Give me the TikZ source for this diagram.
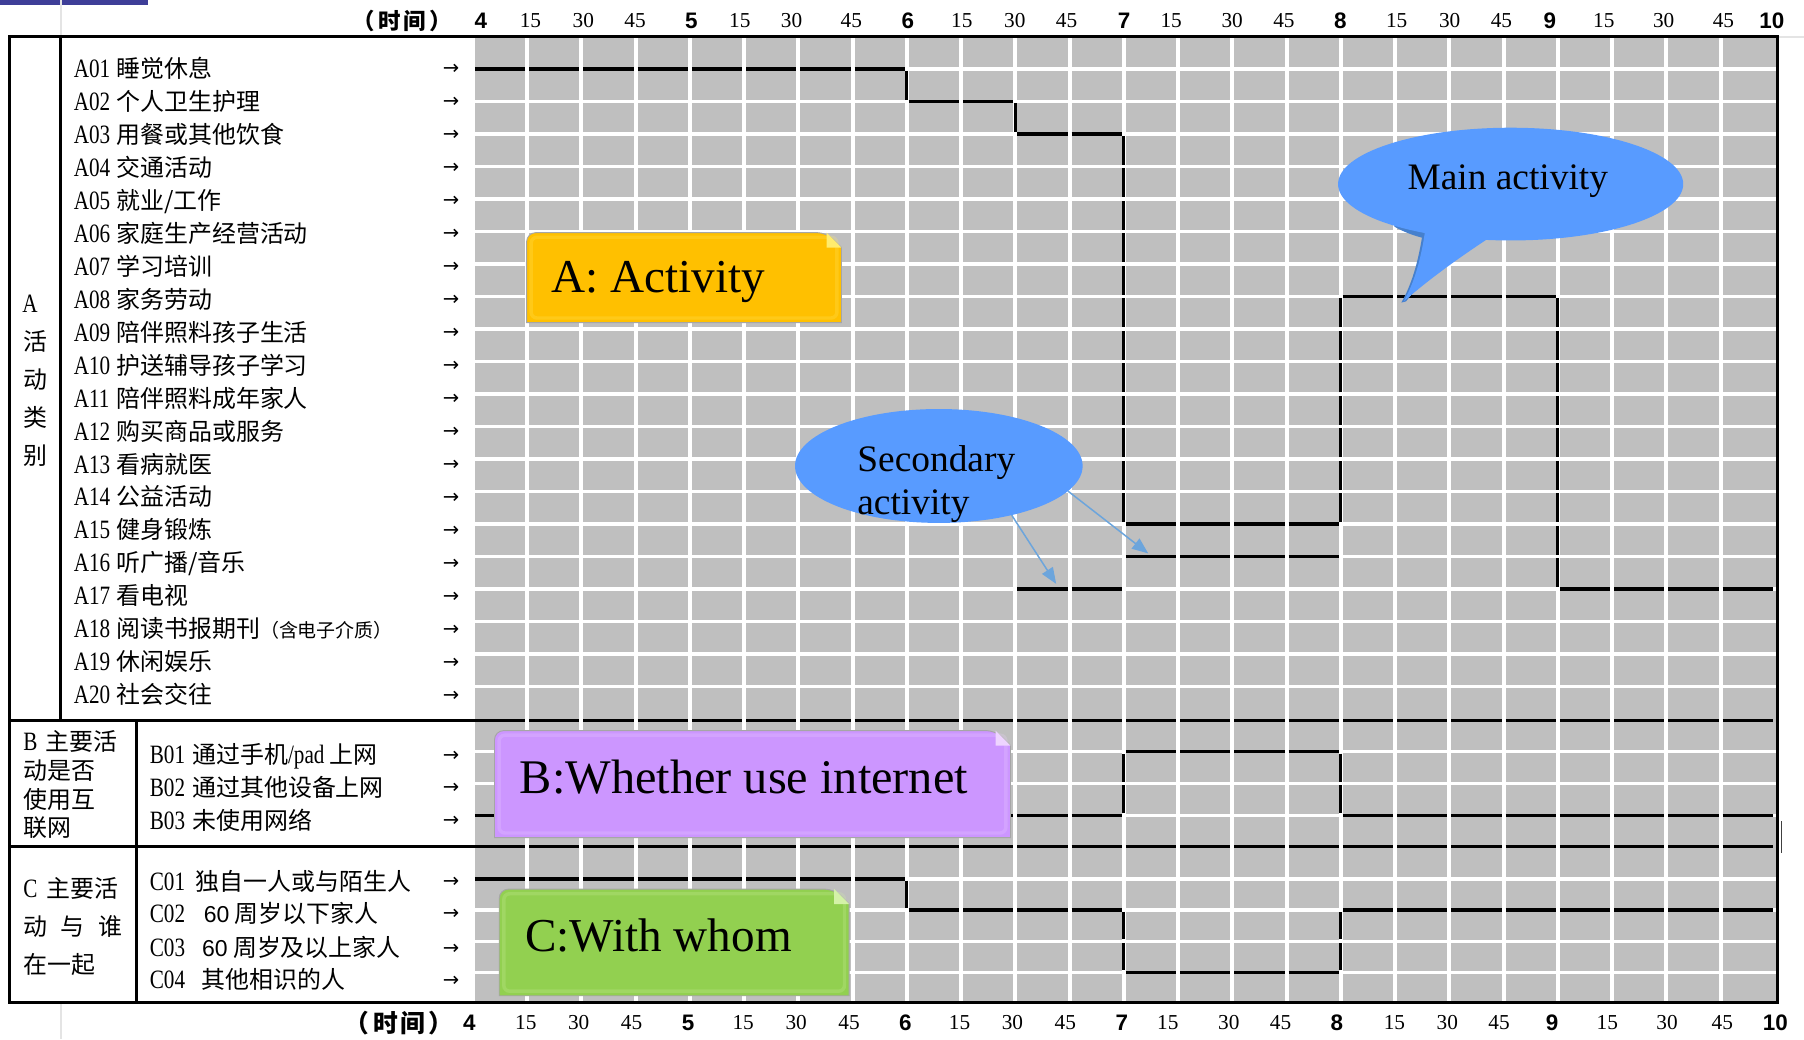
\documentclass[tikz,border=0pt]{standalone}
\usepackage{fontspec}
\setmainfont{Liberation Serif}
\newfontfamily\cjk{Noto Sans CJK SC}
\newfontfamily\code[FakeStretch=0.8]{Liberation Serif}
\newfontfamily\hsans{Liberation Sans}
\newfontfamily\arrowfont{DejaVu Sans}
\usetikzlibrary{arrows.meta,shapes.geometric}
\definecolor{cellgray}{RGB}{191,191,191}
\definecolor{boxA}{RGB}{255,192,0}
\definecolor{foldA}{RGB}{255,236,110}
\definecolor{boxB}{RGB}{204,150,255}
\definecolor{foldB}{RGB}{238,212,255}
\definecolor{boxC}{RGB}{146,208,80}
\definecolor{foldC}{RGB}{212,242,168}
\definecolor{bubble}{RGB}{88,155,255}
\definecolor{bubbleshade}{RGB}{70,128,205}
\definecolor{arrowblue}{RGB}{108,165,220}
\definecolor{topbar}{RGB}{62,62,152}
\definecolor{faint}{RGB}{228,228,228}
\tikzset{
  lbl/.style={anchor=base west, inner sep=0pt, font=\cjk\fontsize{20.8}{22}\selectfont},
  arr/.style={anchor=base, inner sep=0pt, font=\arrowfont\fontsize{17}{17}\selectfont},
  hourlab/.style={inner sep=0pt, font=\hsans\bfseries\fontsize{19.5}{19.5}\selectfont},
  qlab/.style={inner sep=0pt, font=\fontsize{18.5}{18.5}\selectfont},
  cjkhead/.style={inner sep=0pt, font=\cjk\bfseries\fontsize{19.5}{19.5}\selectfont},
  hseg/.style={line width=2.8pt, dash pattern=on 43.65pt off 3.5pt, dash phase=45.4pt},
  vsegA/.style={line width=2.6pt, dash pattern=on 25.25pt off 3pt, dash phase=26.75pt},
  vsegB/.style={line width=2.6pt, dash pattern=on 24.5pt off 3pt, dash phase=26pt},
  vsegC/.style={line width=2.6pt, dash pattern=on 24pt off 3pt, dash phase=25.5pt},
  frame/.style={line width=2.6pt},
  boxtext/.style={anchor=base west, inner sep=0pt, font=\fontsize{41}{41}\selectfont},
  bubbletext/.style={inner sep=0pt, font=\fontsize{32.5}{37.5}\selectfont},
  secarrow/.style={draw=arrowblue, line width=1.3pt, -{Triangle[length=14pt,width=11pt]}},
  bubblenode/.style={ellipse, fill=bubble, inner sep=0pt, outer sep=0pt}
}
\newcommand\cd[2][37pt]{\makebox[#1][l]{\code\fontsize{23}{24}\selectfont #2}}
\newcommand\lbl[4]{\node[lbl] (#1) at (#2,{#3+7.7}) {#4};\node[arr] (#1a) at (392,{#3+5.5}) {→};}
\newcommand\foldbox[6]{%
  \filldraw[fill=#5, draw=black!35, line width=0.8pt] (#1,#4) [rounded corners=8pt] -- (#1,#2) -- ({#3-13},#2) [sharp corners] -- (#3,{#2+13}) -- (#3,#4) -- cycle;
  \draw[#6, opacity=0.22, line width=3pt, rounded corners=5pt] ({#1+4},{#2+4}) rectangle ({#3-4},{#4-4});
  \fill[#6] ({#3-13},#2) -- (#3,{#2+13}) -- ({#3-13},{#2+13}) -- cycle;}
\begin{document}
\begin{tikzpicture}[x=1pt,y=-1pt]
\useasboundingbox (0,0) rectangle (1568,903.1);
\fill[white] (0,0) rectangle (1568,903.1);
% top bar and faint sheet lines
\fill[topbar] (0,0) rectangle (128.5,4.3);
\draw[faint, line width=2pt] (53,0) -- (53,31) (53,872) -- (53,903.1) (1546,32) -- (1568,32);
% grid
\fill[cellgray] (411,32) rectangle (1545,871);
\foreach \k in {0,...,23} \draw[white, line width=3.5pt] ({411+\k*47.15},32) -- ({411+\k*47.15},871);
\foreach \i in {0,...,19} \draw[white, line width=2.8pt] (411,{60+\i*28.25}) -- (1545,{60+\i*28.25});
\foreach \y in {653.5,681,708.5,764,791,818,845} \draw[white, line width=2.8pt] (411,\y) -- (1545,\y);
% section borders across the grid
\draw[hseg] (411,626) -- (1542.6,626);
\draw[hseg] (411,736) -- (1542.6,736);
% A: main activity
\draw[hseg] (411,60) -- (788.2,60);
\draw[vsegA] (788.2,60) -- (788.2,88.25);
\draw[hseg] (788.2,88.25) -- (882.5,88.25);
\draw[vsegA] (882.5,88.25) -- (882.5,116.5);
\draw[hseg] (882.5,116.5) -- (976.8,116.5);
\draw[vsegA] (976.8,116.5) -- (976.8,455.5);
\draw[hseg] (976.8,455.5) -- (1165.4,455.5);
\draw[vsegA] (1165.4,455.5) -- (1165.4,257.75);
\draw[hseg] (1165.4,257.75) -- (1354,257.75);
\draw[vsegA] (1354,257.75) -- (1354,512);
\draw[hseg] (1354,512) -- (1542.6,512);
% A: secondary activity
\draw[hseg] (882.5,512) -- (976.8,512);
\draw[hseg] (976.8,483.75) -- (1165.4,483.75);
% B
\draw[hseg] (411,708.5) -- (976.8,708.5);
\draw[vsegB] (976.8,708.5) -- (976.8,653.5);
\draw[hseg] (976.8,653.5) -- (1165.4,653.5);
\draw[vsegB] (1165.4,653.5) -- (1165.4,708.5);
\draw[hseg] (1165.4,708.5) -- (1542.6,708.5);
% C
\draw[hseg] (411,764) -- (788.2,764);
\draw[vsegC] (788.2,764) -- (788.2,791);
\draw[hseg] (788.2,791) -- (976.8,791);
\draw[vsegC] (976.8,791) -- (976.8,845);
\draw[hseg] (976.8,845) -- (1165.4,845);
\draw[vsegC] (1165.4,845) -- (1165.4,791);
\draw[hseg] (1165.4,791) -- (1542.6,791);
% table frame
\draw[frame] (8,32) rectangle (1545,871);
\draw[frame] (53,32) -- (53,626);
\draw[frame] (119,626) -- (119,871);
\draw[frame] (8,626) -- (412.7,626);
\draw[frame] (8,736) -- (412.7,736);
\draw[black!75, line width=1.2pt] (1548.5,714) -- (1548.5,741);
% section titles
\node[inner sep=0pt, font=\code\fontsize{23}{24}\selectfont] (acat0) at (26,264) {A};
\foreach \c/\y [count=\n] in {活/297,动/330,类/363,别/396}
  \node[inner sep=0pt, font=\cjk\fontsize{20.8}{22}\selectfont] (acat\n) at (31,\y) {\c};
\node[lbl] (bcat1) at (20.2,652.2) {\makebox[19.5pt][l]{\code\fontsize{23}{24}\selectfont B}主要活};
\node[lbl] (bcat2) at (20.2,677.4) {动是否};
\node[lbl] (bcat3) at (20.2,702.3) {使用互};
\node[lbl] (bcat4) at (20.2,726.7) {联网};
\node[lbl] (ccat1) at (20.2,779.7) {\makebox[20pt][l]{\code\fontsize{23}{24}\selectfont C}主要活};
\node[lbl] (ccat2) at (20.2,813) {\spaceskip=11.8pt 动 与 谁};
\node[lbl] (ccat3) at (20.2,846.3) {在一起};
% A rows
\lbl{a01}{64}{59.5}{\cd{A01}睡觉休息}
\lbl{a02}{64}{88.16}{\cd{A02}个人卫生护理}
\lbl{a03}{64}{116.82}{\cd{A03}用餐或其他饮食}
\lbl{a04}{64}{145.48}{\cd{A04}交通活动}
\lbl{a05}{64}{174.14}{\cd{A05}就业/工作}
\lbl{a06}{64}{202.8}{\cd{A06}家庭生产经营活动}
\lbl{a07}{64}{231.46}{\cd{A07}学习培训}
\lbl{a08}{64}{260.12}{\cd{A08}家务劳动}
\lbl{a09}{64}{288.78}{\cd{A09}陪伴照料孩子生活}
\lbl{a10}{64}{317.44}{\cd{A10}护送辅导孩子学习}
\lbl{a11}{64}{346.1}{\cd{A11}陪伴照料成年家人}
\lbl{a12}{64}{374.76}{\cd{A12}购买商品或服务}
\lbl{a13}{64}{403.42}{\cd{A13}看病就医}
\lbl{a14}{64}{432.08}{\cd{A14}公益活动}
\lbl{a15}{64}{460.74}{\cd{A15}健身锻炼}
\lbl{a16}{64}{489.4}{\cd{A16}听广播/音乐}
\lbl{a17}{64}{518.06}{\cd{A17}看电视}
\lbl{a18}{64}{546.72}{\cd{A18}阅读书报期刊{\fontsize{16.5}{17}\selectfont （含电子介质）}}
\lbl{a19}{64}{575.38}{\cd{A19}休闲娱乐}
\lbl{a20}{64}{604.04}{\cd{A20}社会交往}
% B rows
\lbl{b01}{130}{656}{\cd{B01}通过手机{\code\fontsize{23}{24}\selectfont /pad} 上网}
\lbl{b02}{130}{684.2}{\cd{B02}通过其他设备上网}
\lbl{b03}{130}{713}{\cd{B03}未使用网络}
% C rows
\lbl{c01}{130}{766.2}{\cd[40pt]{C01}独自一人或与陌生人}
\lbl{c02}{130}{793.7}{\cd[47pt]{C02}{\hsans\fontsize{20}{20}\selectfont 60} 周岁以下家人}
\lbl{c03}{130}{824}{\cd[45.5pt]{C03}{\hsans\fontsize{20}{20}\selectfont 60} 周岁及以上家人}
\lbl{c04}{130}{851.6}{\cd[45pt]{C04}其他相识的人}
% time headers
\node[cjkhead, anchor=east] (timet) at (393,18) {（\kern3pt 时\kern2pt 间\kern3pt ）};
\foreach \x/\t in {418/4,601/5,789/6,977/7,1165/8,1347/9,1540/10}
  \node[hourlab] (ht\t) at (\x,18) {\t};
\foreach \x/\t [count=\n] in {461/15,507/30,552/45,643/15,688/30,740/45,836/15,882/30,927/45,1018/15,1071/30,1116/45,1214/15,1260/30,1305/45,1394/15,1446/30,1498/45}
  \node[qlab] (qt\n) at (\x,18) {\t};
\node[cjkhead, anchor=east, font=\cjk\bfseries\fontsize{21.5}{21.5}\selectfont] (timeb) at (394,889) {（\kern3pt 时\kern2pt 间\kern3pt ）};
\foreach \x/\t in {408/4,598/5,787/6,975/7,1162/8,1349/9,1543/10}
  \node[hourlab] (hb\t) at (\x,889) {\t};
\foreach \x/\t [count=\n] in {457/15,503/30,549/45,646/15,692/30,738/45,834/15,880/30,926/45,1015/15,1068/30,1113/45,1212/15,1258/30,1303/45,1397/15,1449/30,1497/45}
  \node[qlab] (qb\n) at (\x,889) {\t};
% category boxes
\foldbox{457.7}{202.2}{731.4}{280.4}{boxA}{foldA}
\node[boxtext] (ta) at (479.4,254.3) {A: Activity};
\foldbox{429.8}{635}{878.3}{728}{boxB}{foldB}
\node[boxtext, font=\fontsize{42}{42}\selectfont] (tb) at (451.6,689.4) {B:Whether use internet};
\foldbox{433.9}{772.8}{738}{865.5}{boxC}{foldC}
\node[boxtext] (tc) at (456.2,827) {C:With whom};
% main activity bubble (with soft shade under its lower left edge)
\fill[bubbleshade] (1237,199) .. controls (1233,229) and (1226,249) .. (1218,263) -- (1222,262) .. controls (1240,240) and (1250,225) .. (1260,215) -- cycle;
\fill[bubbleshade] (1212,197) .. controls (1226,205) and (1242,209) .. (1262,211) -- (1262,206) -- (1212,193) -- cycle;
\fill[bubble] (1239,198) .. controls (1235,228) and (1228,248) .. (1220,262) .. controls (1243,242) and (1268,224) .. (1297,205) -- cycle;
\node[bubblenode, minimum width=300pt, minimum height=98pt] (mainb) at (1313,160) {};
\node[bubbletext, anchor=base] (mainl) at (1310.5,165) {Main activity};
% secondary activity bubble
\node[bubblenode, minimum width=250pt, minimum height=99pt] (secb) at (816,405) {};
\node[bubbletext, anchor=base west] (secl1) at (745,410) {Secondary};
\node[bubbletext, anchor=base west] (secl2) at (745,447.5) {activity};
\coordinate (tipa) at (918,507.5);
\coordinate (tipb) at (998,481);
\draw[secarrow] (secb.-34) -- (tipa);
\draw[secarrow] (secb.-11) -- (tipb);
\end{tikzpicture}
\end{document}
